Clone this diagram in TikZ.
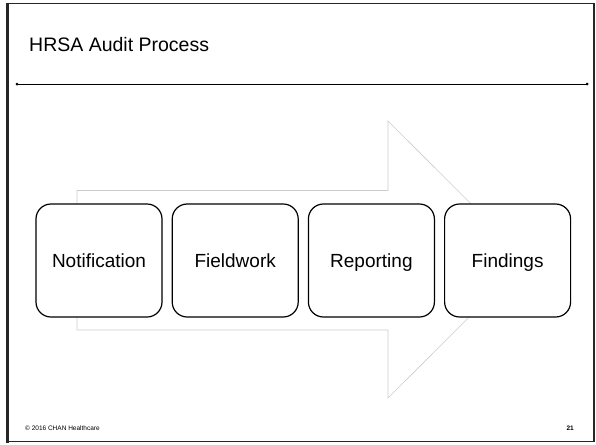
\documentclass[tikz,border=0pt]{standalone}
\usepackage{fontspec}
\setmainfont{Liberation Sans}
\usetikzlibrary{positioning}
\begin{document}
\begin{tikzpicture}[x=1pt,y=-1pt,
  stage/.style={draw,line width=1.2pt,fill=white,rounded corners=15pt,
    minimum width=126pt,minimum height=113pt,text height=13.6pt,text depth=0pt,
    font=\fontsize{19}{22}\selectfont},
  rulerdot/.style={circle,fill,inner sep=0pt,minimum size=3pt},
  foot/.style={font=\fontsize{6.5}{8}\selectfont,inner sep=0pt}]
\useasboundingbox (0,0) rectangle (596,444);
\draw[black!85,line width=1.5pt] (7.5,3.5) rectangle (594,441.5);
\draw[black!85,line width=2.5pt] (7.5,3) -- (7.5,442.5);
\node[anchor=base west,inner sep=0pt,font=\fontsize{19.5}{22}\selectfont] (title) at (29,52) {HRSA Audit Process};
\node[rulerdot] (rl) at (17,84) {};
\node[rulerdot] (rr) at (587,84) {};
\draw[line width=0.7pt] (rl.center) -- (rr.center);
\draw[gray!40,line width=0.6pt] (77,190.5) -- (388,190.5) -- (388,121) -- (527,259.5)
  -- (388,398) -- (388,330) -- (77,330) -- cycle;
\node[stage] (notif) at (99,260.5) {Notification};
\node[stage,right=9pt of notif] (field) {Fieldwork};
\node[stage,right=9pt of field] (report) {Reporting};
\node[stage,right=9pt of report] (find) {Findings};
\node[foot,anchor=base west] (copy) at (25,430) {© 2016 CHAN Healthcare};
\node[foot,anchor=base east,font=\fontsize{6.5}{8}\selectfont\bfseries] (page) at (574,430) {21};
\end{tikzpicture}
\end{document}
